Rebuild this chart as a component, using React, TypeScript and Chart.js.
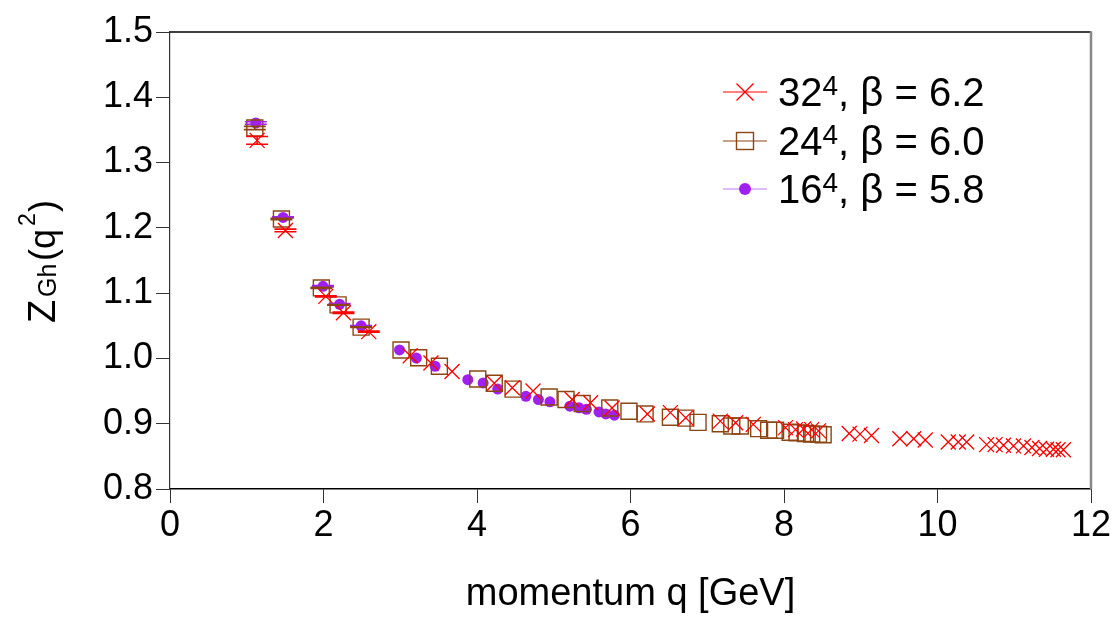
import React, { useEffect, useRef } from 'react';
import { Chart, registerables } from 'chart.js';

Chart.register(...registerables);

// ---- data ----
const q32 = [1.135, 1.504, 2.03, 2.26, 2.59, 3.13, 3.40, 3.675, 4.225, 4.46, 4.73, 5.24, 5.48, 5.76, 6.22, 6.52, 6.72, 7.17, 7.37, 7.60, 8.02, 8.15, 8.255, 8.36, 8.45, 8.85, 8.99, 9.14, 9.51, 9.69, 9.84, 10.14, 10.27, 10.38, 10.64, 10.75, 10.86, 10.99, 11.12, 11.23, 11.33, 11.42, 11.51, 11.57, 11.64];
const z32 = [1.334, 1.196, 1.095, 1.070, 1.041, 1.004, 0.993, 0.980, 0.962, 0.955, 0.950, 0.937, 0.932, 0.924, 0.915, 0.917, 0.909, 0.904, 0.9015, 0.899, 0.894, 0.891, 0.892, 0.891, 0.889, 0.885, 0.884, 0.882, 0.877, 0.877, 0.875, 0.872, 0.872, 0.872, 0.868, 0.868, 0.867, 0.866, 0.866, 0.8635, 0.862, 0.861, 0.861, 0.860, 0.860];
const e32 = [0.006, 0.002, 0.001, 0.001, 0.001];

const q24 = [1.105, 1.452, 1.972, 2.19, 2.49, 3.01, 3.24, 3.51, 4.01, 4.225, 4.47, 4.94, 5.16, 5.37, 5.73, 5.98, 6.19, 6.52, 6.72, 6.88, 7.17, 7.32, 7.43, 7.67, 7.80, 7.89, 8.08, 8.17, 8.28, 8.36, 8.45, 8.51];
const z24 = [1.353, 1.2135, 1.108, 1.082, 1.048, 1.013, 1.001, 0.988, 0.9685, 0.962, 0.953, 0.941, 0.937, 0.931, 0.924, 0.919, 0.915, 0.910, 0.9085, 0.902, 0.900, 0.8964, 0.8964, 0.8924, 0.890, 0.890, 0.887, 0.886, 0.885, 0.884, 0.884, 0.883];
const e24 = [0.0025, 0.001, 0.001, 0.0005, 0.0005];

const q16 = [1.118, 1.473, 1.993, 2.21, 2.49, 2.99, 3.21, 3.454, 3.88, 4.08, 4.27, 4.637, 4.80, 4.95, 5.21, 5.33, 5.425, 5.59, 5.68, 5.79];
const z16 = [1.3606, 1.216, 1.1105, 1.083, 1.050, 1.013, 1.0005, 0.988, 0.9674, 0.9624, 0.953, 0.942, 0.937, 0.9335, 0.9268, 0.9243, 0.922, 0.918, 0.915, 0.913];
const e16 = [0.002, 0.001, 0.001, 0.001, 0.0005];

const xMin = 0, xMax = 12, xStep = 2;
const yMin = 0.8, yMax = 1.5, yStep = 0.1;

const legendBase = ['32', '24', '16'];
const legendSup = ['4', '4', '4'];
const legendRest = [', β = 6.2', ', β = 6.0', ', β = 5.8'];

const xTitle = 'momentum q [GeV]';

const RED = '#ff0000';
const BROWN = '#8b4513';
const PURPLE = '#a020f0';
const FONT = '"Liberation Sans", Arial, Helvetica, sans-serif';

const toPts = (xs: number[], ys: number[]) => xs.map((x, i) => ({ x, y: ys[i] }));

const errorBarPlugin = {
  id: 'errorBars',
  afterDatasetsDraw(chart: any) {
    const { ctx } = chart;
    const ys = chart.scales.y;
    for (let i = chart.data.datasets.length - 1; i >= 0; i--) {
      const ds = chart.data.datasets[i];
      const meta = chart.getDatasetMeta(i);
      const errs: number[] = ds.errors || [];
      ctx.save();
      ctx.strokeStyle = ds.errColor;
      ctx.lineWidth = 1.6;
      errs.forEach((e, j) => {
        const el = meta.data[j];
        if (!el) return;
        const v = ds.data[j].y;
        const yt = ys.getPixelForValue(v + e);
        const yb = ys.getPixelForValue(v - e);
        ctx.beginPath();
        ctx.moveTo(el.x, yt);
        ctx.lineTo(el.x, yb);
        ctx.moveTo(el.x - 11, yt);
        ctx.lineTo(el.x + 11, yt);
        ctx.moveTo(el.x - 11, yb);
        ctx.lineTo(el.x + 11, yb);
        ctx.stroke();
      });
      ctx.restore();
    }
  },
};

const framePlugin = {
  id: 'frame',
  afterDraw(chart: any) {
    const { ctx, chartArea: a } = chart;
    ctx.save();
    ctx.strokeStyle = '#000';
    ctx.lineWidth = 1.5;
    ctx.beginPath();
    ctx.moveTo(a.left, a.top);
    ctx.lineTo(a.right, a.top);
    ctx.stroke();
    ctx.strokeStyle = '#888';
    ctx.lineWidth = 2.5;
    ctx.beginPath();
    ctx.moveTo(a.right, a.top - 0.75);
    ctx.lineTo(a.right, a.bottom);
    ctx.stroke();
    ctx.restore();
  },
};

const yTitlePlugin = {
  id: 'yTitle',
  afterDraw(chart: any) {
    const { ctx } = chart;
    ctx.save();
    ctx.translate(55, 323);
    ctx.rotate(-Math.PI / 2);
    ctx.fillStyle = '#000';
    ctx.textBaseline = 'alphabetic';
    ctx.textAlign = 'left';
    ctx.font = `38px ${FONT}`;
    ctx.fillText('Z', 0, 0);
    ctx.font = `25px ${FONT}`;
    ctx.fillText('Gh', 26, 1);
    ctx.font = `36px ${FONT}`;
    ctx.fillText('(q', 62, 0);
    ctx.font = `23px ${FONT}`;
    ctx.fillText('2', 97, -20);
    ctx.font = `36px ${FONT}`;
    ctx.fillText(')', 111, 0);
    ctx.restore();
  },
};

const legendPlugin = {
  id: 'customLegend',
  afterDraw(chart: any) {
    const { ctx } = chart;
    const rowY = [92, 141, 189];
    const x0 = 723, x1 = 767, xm = 745, tx = 778;
    const lineColors = [RED, BROWN, 'rgba(160,32,240,0.6)'];
    ctx.save();
    for (let i = 0; i < 3; i++) {
      const y = rowY[i];
      ctx.strokeStyle = lineColors[i];
      ctx.lineWidth = 1.2;
      ctx.beginPath();
      ctx.moveTo(x0, y);
      ctx.lineTo(x1, y);
      ctx.stroke();
      if (i === 0) {
        ctx.strokeStyle = RED;
        ctx.lineWidth = 1.3;
        const h = 8.5;
        ctx.beginPath();
        ctx.moveTo(xm - h, y - h);
        ctx.lineTo(xm + h, y + h);
        ctx.moveTo(xm - h, y + h);
        ctx.lineTo(xm + h, y - h);
        ctx.stroke();
      } else if (i === 1) {
        ctx.strokeStyle = BROWN;
        ctx.lineWidth = 1.4;
        ctx.strokeRect(xm - 8.5, y - 8.5, 17, 17);
      } else {
        ctx.fillStyle = PURPLE;
        ctx.beginPath();
        ctx.arc(xm, y, 6, 0, Math.PI * 2);
        ctx.fill();
      }
      ctx.fillStyle = '#000';
      ctx.textBaseline = 'alphabetic';
      ctx.textAlign = 'left';
      const by = y + 14;
      ctx.font = `40px ${FONT}`;
      ctx.fillText(legendBase[i], tx, by);
      let w = ctx.measureText(legendBase[i]).width;
      ctx.font = `28px ${FONT}`;
      ctx.fillText(legendSup[i], tx + w, by - 11);
      w += ctx.measureText(legendSup[i]).width;
      ctx.font = `40px ${FONT}`;
      ctx.fillText(legendRest[i], tx + w, by);
    }
    ctx.restore();
  },
};

export default function App() {
  const ref = useRef<HTMLCanvasElement | null>(null);

  useEffect(() => {
    if (!ref.current) return;
    Chart.defaults.font.family = FONT;
    const chart = new Chart(ref.current, {
      type: 'scatter',
      data: {
        datasets: [
          {
            label: '32^4, β = 6.2',
            data: toPts(q32, z32),
            pointStyle: 'crossRot',
            pointRadius: 10.6,
            borderColor: RED,
            backgroundColor: RED,
            pointBorderWidth: 1.3,
            showLine: false,
            errors: e32,
            errColor: RED,
          } as any,
          {
            label: '24^4, β = 6.0',
            data: toPts(q24, z24),
            pointStyle: 'rect',
            pointRadius: 11.3,
            borderColor: BROWN,
            backgroundColor: 'rgba(0,0,0,0)',
            pointBorderWidth: 1.4,
            showLine: false,
            errors: e24,
            errColor: BROWN,
          } as any,
          {
            label: '16^4, β = 5.8',
            data: toPts(q16, z16),
            pointStyle: 'circle',
            pointRadius: 5.5,
            borderColor: PURPLE,
            backgroundColor: PURPLE,
            pointBorderWidth: 0,
            showLine: false,
            errors: e16,
            errColor: PURPLE,
          } as any,
        ],
      },
      options: {
        animation: false,
        responsive: true,
        maintainAspectRatio: false,
        layout: { padding: { top: 32, right: 24, left: 0, bottom: 0 } },
        plugins: { legend: { display: false }, tooltip: { enabled: false } },
        scales: {
          x: {
            type: 'linear',
            min: xMin,
            max: xMax,
            afterFit: (s: any) => { s.height = 128; },
            ticks: {
              stepSize: xStep,
              color: '#000',
              font: { size: 36 },
              padding: 1,
              maxRotation: 0,
              callback: (v: any) => String(v),
            },
            grid: { display: true, drawOnChartArea: false, drawTicks: true, tickLength: 14, tickColor: '#333', tickWidth: 1 },
            border: { display: true, color: '#000', width: 1.5 },
            title: { display: true, text: xTitle, color: '#000', font: { size: 38 }, padding: { top: 0, bottom: 0 } },
          },
          y: {
            type: 'linear',
            min: yMin,
            max: yMax,
            afterFit: (s: any) => { s.width = 170; },
            ticks: {
              stepSize: yStep,
              color: '#000',
              font: { size: 36 },
              padding: 3,
              callback: (v: any) => Number(v).toFixed(1),
            },
            grid: { display: true, drawOnChartArea: false, drawTicks: true, tickLength: 14, tickColor: '#333', tickWidth: 1 },
            border: { display: true, color: '#333', width: 1.2 },
          },
        },
      },
      plugins: [errorBarPlugin, framePlugin, yTitlePlugin, legendPlugin],
    });
    return () => chart.destroy();
  }, []);

  return (
    <div style={{ position: 'absolute', left: 0, top: 0, width: 1115, height: 617, background: '#fff' }}>
      <canvas ref={ref} />
    </div>
  );
}
